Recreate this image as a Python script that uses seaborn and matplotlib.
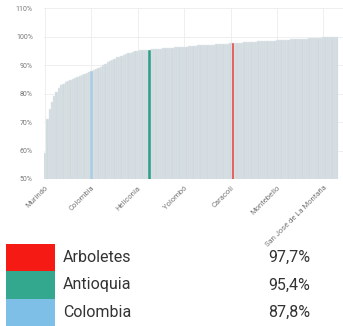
import numpy as np
import matplotlib
matplotlib.use("Agg")
import matplotlib.pyplot as plt
import pandas as pd
import seaborn as sns
from matplotlib.patches import Rectangle

# Coverage per municipality (sorted), plus Antioquia and Colombia
values = [
    59.0, 71.0, 74.5, 77.0, 79.0, 80.5, 82.0, 83.0, 83.5, 84.0,
    84.3, 84.6, 85.0, 85.3, 85.7, 86.0, 86.4, 86.8, 87.2, 87.5,
    87.8, 88.2, 88.6, 89.0, 89.5, 90.0, 90.5, 91.0, 91.4, 91.8,
    92.3, 92.7, 93.0, 93.3, 93.6, 93.9, 94.2, 94.4, 94.6, 95.0,
    95.1, 95.2, 95.2, 95.3, 95.3, 95.4, 95.5, 95.6, 95.7, 95.7,
    95.8, 95.9, 95.9, 96.0, 96.1, 96.1, 96.2, 96.3, 96.3, 96.4,
    96.5, 96.5, 96.6, 96.7, 96.7, 96.8, 96.9, 96.9, 97.0, 97.0,
    97.1, 97.1, 97.2, 97.2, 97.3, 97.3, 97.4, 97.4, 97.5, 97.5,
    97.6, 97.7, 97.7, 97.8, 97.9, 97.9, 98.0, 98.0, 98.1, 98.1,
    98.2, 98.2, 98.3, 98.3, 98.4, 98.4, 98.5, 98.5, 98.6, 98.6,
    98.7, 98.7, 98.8, 98.8, 98.9, 98.9, 99.0, 99.0, 99.1, 99.1,
    99.2, 99.2, 99.3, 99.3, 99.4, 99.4, 99.5, 99.5, 99.6, 99.6,
    99.7, 99.7, 99.8, 99.8, 99.9, 99.9, 100.0,
]
highlight_idx = {20: "Colombia", 45: "Antioquia", 81: "Arboletes"}

tick_positions = [0, 20, 40, 60, 80, 100, 120]
tick_labels = ["Murindó", "Colombia", "Heliconia", "Yolombó", "Caracolí",
               "Montebello", "San José de La Montaña"]
y_ticks = [50, 60, 70, 80, 90, 100, 110]

legend_names = ["Arboletes", "Antioquia", "Colombia"]
legend_values = ["97,7%", "95,4%", "87,8%"]

colors = {"other": "#cfd9de", "Arboletes": "#e8433f",
          "Antioquia": "#2e9e88", "Colombia": "#a9cce2"}
legend_colors = ["#f51a14", "#33a88f", "#7dbfe6"]

df = pd.DataFrame({"idx": range(len(values)), "value": values})
df["group"] = [highlight_idx.get(i, "other") for i in df["idx"]]

sns.set_style("whitegrid")
plt.rcParams["font.family"] = ["Roboto", "DejaVu Sans"]

fig = plt.figure(figsize=(3.43, 3.26), dpi=100)
ax = fig.add_axes([0.128, 0.451, 0.872, 0.524])
sns.barplot(data=df, x="idx", y="value", hue="group", palette=colors,
            dodge=False, width=1.0, legend=False, ax=ax,
            edgecolor="#e3e9ec", linewidth=0.3, saturation=1)
ax.set_ylim(50, 110)
ax.set_xlim(-0.5, len(values) + 1.5)
ax.set_yticks(y_ticks)
ax.set_yticklabels([f"{v}%" for v in y_ticks], fontsize=5, color="#777777")
ax.set_xticks(tick_positions)
ax.set_xticklabels(tick_labels, fontsize=5.5, color="#777777",
                   rotation=45, ha="right", rotation_mode="anchor")
ax.tick_params(axis="y", length=0, pad=8)
ax.tick_params(axis="x", length=0, pad=4)
ax.set_xlabel("")
ax.set_ylabel("")
ax.grid(True, color="#ececec", linewidth=0.6)
ax.set_axisbelow(True)
for s in ax.spines.values():
    s.set_visible(False)

# Legend block at the bottom
lax = fig.add_axes([0, 0, 1, 86 / 326])
lax.set_xlim(0, 343)
lax.set_ylim(86, 0)
lax.axis("off")
row_h = 27.3
for i, (name, val, c) in enumerate(zip(legend_names, legend_values, legend_colors)):
    top = 4 + i * row_h
    lax.add_patch(Rectangle((6, top), 49, row_h, facecolor=c, edgecolor="none"))
    lax.text(63, top + row_h / 2, name, fontsize=11.5, color="#333333", va="center")
    lax.text(310, top + row_h / 2, val, fontsize=11.5, color="#333333",
             va="center", ha="right")

fig.savefig("out.png", dpi=100)
